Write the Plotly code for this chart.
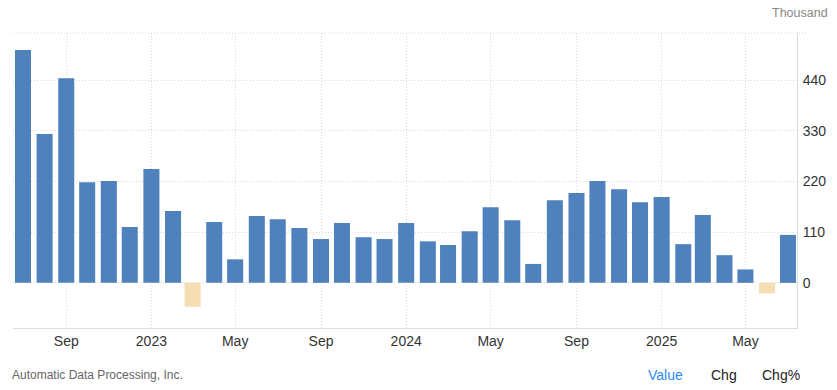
import plotly.graph_objects as go

months = ["2022-07-01", "2022-08-01", "2022-09-01", "2022-10-01", "2022-11-01", "2022-12-01",
          "2023-01-01", "2023-02-01", "2023-03-01", "2023-04-01", "2023-05-01", "2023-06-01",
          "2023-07-01", "2023-08-01", "2023-09-01", "2023-10-01", "2023-11-01", "2023-12-01",
          "2024-01-01", "2024-02-01", "2024-03-01", "2024-04-01", "2024-05-01", "2024-06-01",
          "2024-07-01", "2024-08-01", "2024-09-01", "2024-10-01", "2024-11-01", "2024-12-01",
          "2025-01-01", "2025-02-01", "2025-03-01", "2025-04-01", "2025-05-01", "2025-06-01",
          "2025-07-01"]
values = [505, 323, 444, 218, 221, 121,
          247, 156, -52, 132, 51, 145,
          138, 119, 95, 130, 99, 95,
          130, 90, 82, 112, 164, 136,
          41, 179, 195, 221, 203, 175,
          186, 84, 147, 60, 29, -23,
          104]

x_tick_vals = ["2022-09-01", "2023-01-01", "2023-05-01", "2023-09-01", "2024-01-01",
               "2024-05-01", "2024-09-01", "2025-01-01", "2025-05-01"]
x_tick_text = ["Sep", "2023", "May", "Sep", "2024", "May", "Sep", "2025", "May"]
y_tick_vals = [0, 110, 220, 330, 440]

POS = "#4f81bd"
NEG = "#f5deb3"
colors = [POS if v >= 0 else NEG for v in values]

GRID = "#d9d9d9"
DOTS = "1px,2px"

fig = go.Figure(go.Bar(x=months, y=values, marker=dict(color=colors, line=dict(width=0)),
                       hoverinfo="x+y"))

fig.update_layout(
    width=837, height=390,
    margin=dict(l=13, r=40, t=33, b=62, autoexpand=False),
    paper_bgcolor="white", plot_bgcolor="white",
    bargap=0.18,
    showlegend=False,
    font=dict(family="Liberation Sans, Arial, sans-serif", size=14, color="#333333"),
    xaxis=dict(
        type="date", automargin=False,
        range=["2022-06-16 17:00", "2025-07-13 22:00"],
        tickvals=x_tick_vals, ticktext=x_tick_text,
        showgrid=True, gridcolor=GRID, griddash=DOTS, gridwidth=1,
        showline=True, linecolor="#dddddd", linewidth=1,
        ticks="", tickfont=dict(size=14, color="#333333"),
        zeroline=False, fixedrange=True,
    ),
    yaxis=dict(
        side="right", automargin=False,
        range=[-98, 542],
        tickvals=y_tick_vals,
        showgrid=True, gridcolor=GRID, griddash=DOTS, gridwidth=1,
        showline=True, linecolor="#dddddd", linewidth=1,
        zeroline=False,
        ticks="", ticklabelstandoff=2,
        tickfont=dict(size=14, color="#333333"),
        fixedrange=True,
    ),
    shapes=[
        dict(type="line", xref="paper", yref="paper", x0=0, x1=1.0115, y0=1, y1=1,
             line=dict(color=GRID, width=1, dash=DOTS)),
    ],
    annotations=[
        dict(text="Thousand", xref="paper", yref="paper", x=1.0, y=1.0, xanchor="left",
             yanchor="bottom", xshift=-27, yshift=11, showarrow=False,
             font=dict(size=12.5, color="#888888")),
        dict(text="Automatic Data Processing, Inc.", xref="paper", yref="paper", x=0,
             y=0, xanchor="left", yanchor="middle", xshift=-3, yshift=-47, showarrow=False,
             font=dict(size=12, color="#666666")),
        dict(text="Value", xref="paper", yref="paper", x=0, y=0, xanchor="left",
             yanchor="middle", xshift=633, yshift=-47, showarrow=False,
             font=dict(size=14, color="#2d8cf0")),
        dict(text="Chg", xref="paper", yref="paper", x=0, y=0, xanchor="left",
             yanchor="middle", xshift=696, yshift=-47, showarrow=False,
             font=dict(size=14, color="#222222")),
        dict(text="Chg%", xref="paper", yref="paper", x=0, y=0, xanchor="left",
             yanchor="middle", xshift=747, yshift=-47, showarrow=False,
             font=dict(size=14, color="#222222")),
    ],
)

fig.write_html("out.html", config={"displayModeBar": False},
               post_script="document.body.style.margin='0';document.body.style.overflow='hidden';")
